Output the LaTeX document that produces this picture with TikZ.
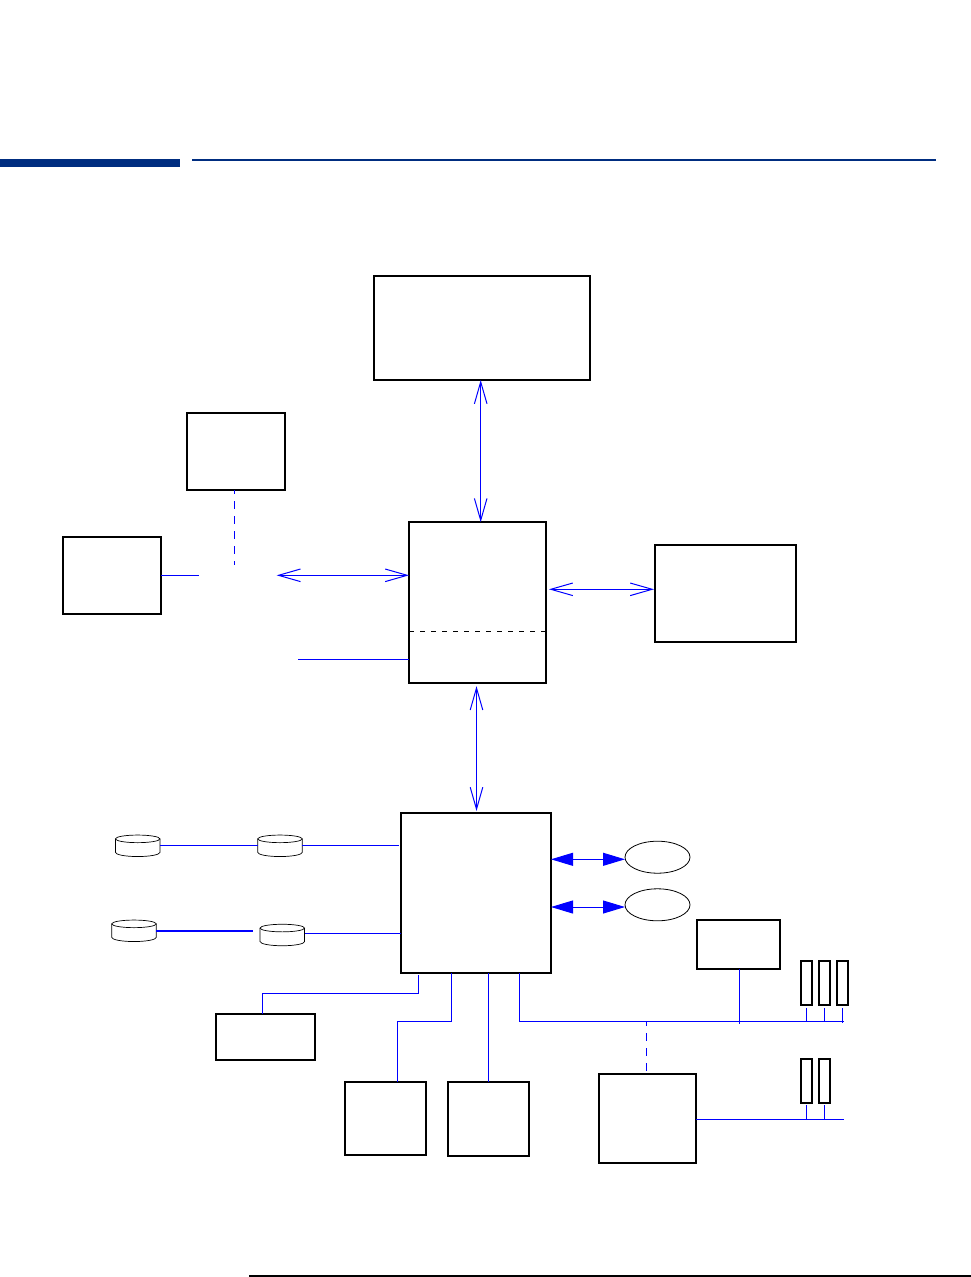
\documentclass[tikz,border=0pt]{standalone}
\usepackage{xcolor}
\usetikzlibrary{arrows.meta,positioning,shapes.geometric}
\definecolor{linkblue}{RGB}{0,0,255}
\definecolor{bandblue}{RGB}{0,45,128}
\newcommand{\discshape}[1]{
\draw[discline] ([yshift=-3.8pt]#1.north) ellipse [x radius=22.25pt,y radius=3.8pt];
\draw[discline] ([yshift=-3.8pt]#1.north west) -- ([yshift=4.2pt]#1.south west) arc[start angle=180,end angle=360,x radius=22.25pt,y radius=4.2pt] -- ([yshift=-3.8pt]#1.north east);
}
\begin{document}
\begin{tikzpicture}[
x=1pt,y=-1pt,
box/.style={draw,line width=2pt,inner sep=0pt,outer sep=0pt},
band/.style={fill=bandblue,inner sep=0pt,outer sep=0pt},
rulebar/.style={fill=black,inner sep=0pt,outer sep=0pt},
oval/.style={ellipse,draw,line width=0.8pt,inner sep=0pt,outer sep=0pt,minimum width=65pt,minimum height=32pt},
disc/.style={inner sep=0pt,outer sep=0pt,minimum width=44.5pt,minimum height=21.5pt},
discline/.style={black,line width=0.7pt},
link/.style={draw=linkblue,line width=1pt},
dashlink/.style={link,dash pattern=on 8pt off 7pt,dash phase=3.7pt},
arrow/.style={{Straight Barb[length=22pt,width=12.6pt]}-{Straight Barb[length=22pt,width=12.6pt]},link},
heavy/.style={{Triangle[length=22pt,width=13pt]}-{Triangle[length=22pt,width=13pt]},link,color=linkblue}
]
\useasboundingbox (0,0) rectangle (971,1277);
% header and footer rules
\node[band,minimum width=180pt,minimum height=8pt] (bandL) at (90,163) {};
\node[band,minimum width=744pt,minimum height=2pt] (bandR) at (564,160) {};
\node[rulebar,minimum width=722pt,minimum height=2pt] (footer) at (610,1276) {};
% upper boxes
\node[box,minimum width=216pt,minimum height=104pt] (memory) at (482,328) {};
\node[box,minimum width=98pt,minimum height=77pt] (remote) at (236,451.5) {};
\node[box,minimum width=98pt,minimum height=77pt] (local) at (112,575.3) {};
\node[box,minimum width=137pt,minimum height=161pt] (bridge) at (477.5,602.7) {};
\node[box,minimum width=141pt,minimum height=97pt] (graphics) at (725.5,593.5) {};
\node[box,minimum width=150pt,minimum height=160pt] (iohub) at (476,893) {};
% lower boxes
\node[box,minimum width=99.5pt,minimum height=46.5pt] (boxA) at (265.5,1037) {};
\node[box,minimum width=81.5pt,minimum height=73pt] (boxB) at (385.5,1118.5) {};
\node[box,minimum width=81.5pt,minimum height=74pt] (boxC) at (488.7,1119) {};
\node[box,minimum width=83.5pt,minimum height=49pt] (ctrl) at (738.3,944.5) {};
\node[box,minimum width=97pt,minimum height=88.7pt] (expander) at (647.5,1118.4) {};
% slots
\node[box,minimum width=11pt,minimum height=44pt] (slotA) at (806.5,983) {};
\node[box,minimum width=11pt,minimum height=44pt] (slotB) at (824.5,983) {};
\node[box,minimum width=11pt,minimum height=44pt] (slotC) at (842.7,983) {};
\node[box,minimum width=11pt,minimum height=44pt] (slotD) at (806.5,1081) {};
\node[box,minimum width=11pt,minimum height=44pt] (slotE) at (824.5,1081) {};
% ovals and discs
\node[oval] (ovalA) at (657.5,857.2) {};
\node[oval] (ovalB) at (657.5,904.8) {};
\node[disc] (discA) at (137.7,845.8) {};
\node[disc] (discB) at (280,845.8) {};
\node[disc] (discC) at (134,930.8) {};
\node[disc] (discD) at (282.3,935) {};
\discshape{discA}
\discshape{discB}
\discshape{discC}
\discshape{discD}
% rails and free ends
\coordinate (railTop) at (480.7,0);
\coordinate (railMid) at (476.5,0);
\coordinate (railDash) at (234.5,0);
\coordinate (railA) at (418.3,0);
\coordinate (railB) at (451.5,0);
\coordinate (railC) at (488.5,0);
\coordinate (railD) at (519.5,0);
\coordinate (railE) at (262.5,0);
\coordinate (railF) at (397.3,0);
\coordinate (railG) at (739.3,0);
\coordinate (railH) at (646.5,0);
\coordinate (rowLeft) at (0,575.3);
\coordinate (rowRight) at (0,589.3);
\coordinate (rowSide) at (0,659.3);
\coordinate (rowBus) at (0,1021.7);
\coordinate (rowLow) at (0,1119.3);
\coordinate (rowDiscA) at (0,845.3);
\coordinate (rowDiscB) at (0,931);
\coordinate (rowDiscC) at (0,933.3);
\coordinate (rowHeavyA) at (0,859.3);
\coordinate (rowHeavyB) at (0,907);
\coordinate (endLocal) at (199,575.3);
\coordinate (endDash) at (234.5,565);
\coordinate (endArrow) at (276.7,575.3);
\coordinate (endSide) at (298,659.3);
\coordinate (endThick) at (252.7,931);
\coordinate (endBus) at (843.5,1021.7);
\coordinate (endLow) at (844,1119.3);
% connectors
\draw[arrow] (railTop |- memory.south) -- (railTop |- bridge.north);
\draw[arrow,shorten <=3pt,shorten >=2pt] (railMid |- bridge.south) -- (railMid |- iohub.north);
\draw[arrow,shorten <=3pt,shorten >=1pt] (bridge.east |- rowRight) -- (graphics.west |- rowRight);
\draw[arrow] (endArrow) -- (bridge.west |- rowLeft);
\draw[link] (local.east |- rowLeft) -- (endLocal);
\draw[dashlink] (railDash |- remote.south) -- (endDash);
\draw[link] (endSide) -- (bridge.west |- rowSide);
\draw[black,line width=1pt,dash pattern=on 5pt off 6pt] (bridge.west |- 0,631.3) -- (bridge.east |- 0,631.3);
\draw[heavy] (iohub.east |- rowHeavyA) -- (ovalA.west |- rowHeavyA);
\draw[heavy] (iohub.east |- rowHeavyB) -- (ovalB.west |- rowHeavyB);
\draw[link] (discA.east |- rowDiscA) -- (discB.west |- rowDiscA);
\draw[link] (discB.east |- rowDiscA) -- ([xshift=-2pt]iohub.west |- rowDiscA);
\draw[link,line width=2pt] (discC.east |- rowDiscB) -- (endThick);
\draw[link] (discD.east |- rowDiscC) -- (iohub.west |- rowDiscC);
\draw[link] ([yshift=-2pt]railA |- iohub.south) -- ++(0,18.3) -| (railE |- boxA.north);
\draw[link] (railB |- iohub.south) -- ++(0,48) -| (railF |- boxB.north);
\draw[link] (railC |- iohub.south) -- (railC |- boxC.north);
\draw[link] (railD |- iohub.south) |- (endBus);
\draw[link] (railG |- ctrl.south) -- ([yshift=-2pt]railG |- rowBus);
\draw[dashlink] (railH |- rowBus) -- ([yshift=2.3pt]railH |- expander.north);
\draw[link] ([yshift=-3pt]slotA.south) -- (slotA.south |- rowBus);
\draw[link] ([yshift=-3pt]slotB.south) -- (slotB.south |- rowBus);
\draw[link] ([yshift=-3pt]slotC.south) -- ([yshift=-1.5pt]slotC.south |- rowBus);
\draw[link] (expander.east |- rowLow) -- (endLow);
\draw[link] ([yshift=-2pt]slotD.south) -- (slotD.south |- rowLow);
\draw[link] ([yshift=-2pt]slotE.south) -- (slotE.south |- rowLow);
\end{tikzpicture}
\end{document}
